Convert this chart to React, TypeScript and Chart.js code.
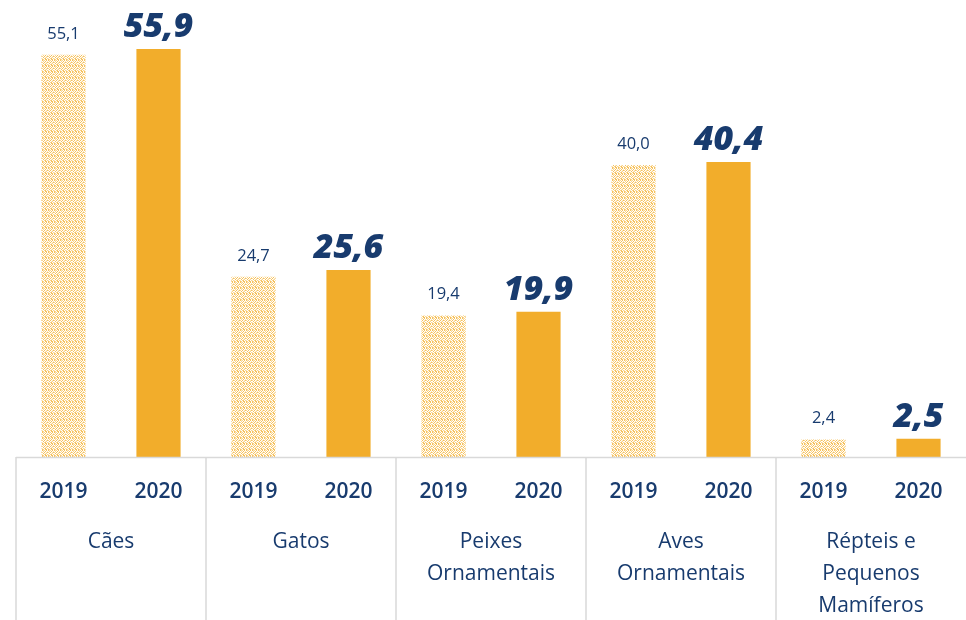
import React, { useEffect, useRef } from "react";
import { Chart, registerables } from "chart.js";

Chart.register(...registerables);

const categories: string[][] = [
  ["Cães"],
  ["Gatos"],
  ["Peixes", "Ornamentais"],
  ["Aves", "Ornamentais"],
  ["Répteis e", "Pequenos", "Mamíferos"],
];
const years = ["2019", "2020"];
const values2019 = [55.1, 24.7, 19.4, 40.0, 2.4];
const values2020 = [55.9, 25.6, 19.9, 40.4, 2.5];

const BLUE = "#183B6E";
const ORANGE = "#F2AD2B";
const FONT = "'Open Sans', 'Noto Sans', sans-serif";

function makePattern(): CanvasPattern | string {
  const c = document.createElement("canvas");
  c.width = 6;
  c.height = 6;
  const ctx = c.getContext("2d");
  if (!ctx) return "#F9D58E";
  ctx.fillStyle = "#FFFFFF";
  ctx.fillRect(0, 0, 6, 6);
  const A = "#F6C15B";
  const B = "#FAD58F";
  const C = "#FCE6BC";
  const cells = [
    [0, 0, A], [2, 0, B], [4, 0, A], [1, 0, C],
    [1, 1, B], [3, 1, A], [5, 1, C],
    [0, 2, B], [2, 2, A], [5, 2, A], [4, 2, C],
    [1, 3, A], [3, 3, C], [4, 3, B],
    [0, 4, C], [2, 4, B], [5, 4, B], [3, 4, A],
    [1, 5, B], [3, 5, A], [4, 5, A], [0, 5, A],
  ] as [number, number, string][];
  for (const [x, y, col] of cells) {
    ctx.fillStyle = col;
    ctx.fillRect(x, y, 1, 1);
  }
  const p = ctx.createPattern(c, "repeat");
  return p || "#F9D58E";
}

export default function App() {
  const ref = useRef<HTMLCanvasElement | null>(null);

  useEffect(() => {
    if (!ref.current) return;
    const pattern = makePattern();
    const labels: string[] = [];
    const data: number[] = [];
    const colors: (string | CanvasPattern)[] = [];
    categories.forEach((_, i) => {
      labels.push(years[0]);
      data.push(values2019[i]);
      colors.push(pattern);
      labels.push(years[1]);
      data.push(values2020[i]);
      colors.push(ORANGE);
    });

    const decor = {
      id: "decor",
      afterDatasetsDraw(chart: any) {
        const ctx = chart.ctx as CanvasRenderingContext2D;
        const xs = chart.scales.x;
        const area = chart.chartArea;
        const meta = chart.getDatasetMeta(0);
        const H = chart.height;
        ctx.save();
        // axis line
        ctx.strokeStyle = "#D9D9D9";
        ctx.lineWidth = 1.5;
        ctx.beginPath();
        ctx.moveTo(area.left, area.bottom + 0.5);
        ctx.lineTo(area.right, area.bottom + 0.5);
        ctx.stroke();
        // separators
        const step = xs.getPixelForValue(1) - xs.getPixelForValue(0);
        for (let i = 0; i < categories.length; i++) {
          const x = xs.getPixelForValue(i * 2) - step / 2;
          ctx.beginPath();
          ctx.moveTo(x, area.bottom);
          ctx.lineTo(x, H);
          ctx.stroke();
        }
        // year labels
        ctx.fillStyle = BLUE;
        ctx.textAlign = "center";
        ctx.textBaseline = "alphabetic";
        ctx.font = `600 21px ${FONT}`;
        labels.forEach((l, i) => {
          ctx.fillText(l, xs.getPixelForValue(i), area.bottom + 41);
        });
        // category labels
        ctx.font = `500 21px ${FONT}`;
        categories.forEach((lines, i) => {
          const cx = (xs.getPixelForValue(i * 2) + xs.getPixelForValue(i * 2 + 1)) / 2;
          lines.forEach((ln, j) => {
            ctx.fillText(ln, cx, area.bottom + 91 + j * 32);
          });
        });
        // value labels
        meta.data.forEach((bar: any, i: number) => {
          const v = data[i];
          const txt = v.toFixed(1).replace(".", ",");
          if (i % 2 === 0) {
            ctx.font = `400 16.5px ${FONT}`;
            ctx.fillText(txt, bar.x, bar.y - 16);
          } else {
            ctx.font = `italic 800 34px ${FONT}`;
            ctx.fillText(txt, bar.x, bar.y - 12);
          }
        });
        ctx.restore();
      },
    };

    const chart = new Chart(ref.current, {
      type: "bar",
      data: {
        labels,
        datasets: [
          {
            data,
            backgroundColor: colors as any,
            barPercentage: 0.465,
            categoryPercentage: 1,
            borderWidth: 0,
          },
        ],
      },
      options: {
        animation: false,
        responsive: false,
        maintainAspectRatio: false,
        layout: { padding: { left: 16, right: 0, top: 19, bottom: 163 } },
        plugins: { legend: { display: false }, tooltip: { enabled: false } },
        scales: {
          x: { display: false, grid: { display: false } },
          y: { display: false, min: 0, max: 60 },
        },
      },
      plugins: [decor],
    });
    return () => chart.destroy();
  }, []);

  return (
    <div style={{ position: "fixed", left: 0, top: 0, width: 966, height: 620, background: "#fff" }}>
      <canvas ref={ref} width={966} height={620} style={{ display: "block" }} />
    </div>
  );
}
